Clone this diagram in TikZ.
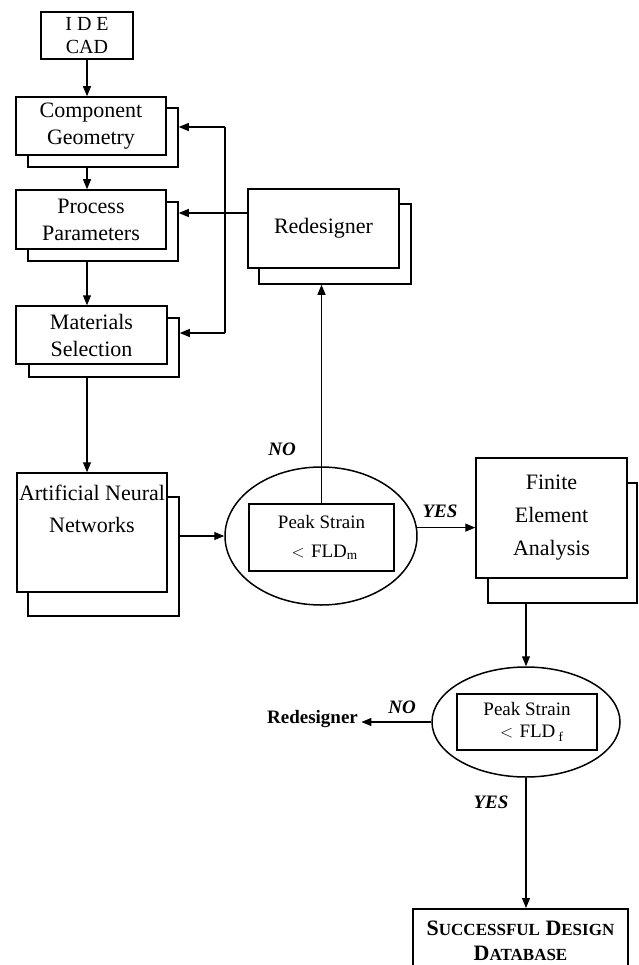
\documentclass[tikz,border=0pt]{standalone}
\usepackage{fontspec}
\setmainfont{Liberation Serif}
\usetikzlibrary{arrows.meta,shapes.geometric,calc}
\newcommand{\scword}[2]{{\fontsize{22}{25}\selectfont #1}{\fontsize{17}{25}\selectfont #2}}

\begin{document}
\begin{tikzpicture}[x=1pt,y=-1pt,
  box/.style={draw, line width=1.5pt, fill=white, align=center, inner sep=0pt, font=\fontsize{22}{27}\selectfont},
  ell/.style={draw, ellipse, line width=1.5pt, fill=white, inner sep=0pt},
  link/.style={line width=1.1pt},
  arr/.style={link, -{Triangle[length=10pt,width=8pt]}},
  tag/.style={font=\fontsize{19}{22}\selectfont\bfseries\itshape}]
\useasboundingbox (0,0) rectangle (638,965);
\clip (0,0) rectangle (638,965);

\node[box, minimum width=92pt, minimum height=47pt, font=\fontsize{20}{23}\selectfont] (ide) at (87,35.5) {I D E\\CAD};

\node[box, minimum width=150pt, minimum height=59pt] (cgs) at (103,137.5) {};
\node[box, minimum width=150pt, minimum height=58pt] (cg) at (91,126) {Component\\Geometry};
\node[box, minimum width=150pt, minimum height=59pt] (pps) at (103,231.5) {};
\node[box, minimum width=150pt, minimum height=59pt] (pp) at (91,219.5) {Process\\Parameters};
\node[box, minimum width=150pt, minimum height=59pt] (mss) at (104,347.5) {};
\node[box, minimum width=151pt, minimum height=58pt] (ms) at (91.5,335) {Materials\\Selection};

\node[box, minimum width=151pt, minimum height=119pt] (anns) at (103.5,556.5) {};
\node[box, minimum width=150pt, minimum height=119pt] (ann) at (92,532.5) {};
\node[align=center, font=\fontsize{22}{32}\selectfont] (anntxt) at (92,509) {Artificial Neural\\Networks};

\node[box, minimum width=152pt, minimum height=80pt] (rds) at (335,244) {};
\node[box, minimum width=151pt, minimum height=79pt] (rd) at (323.5,228.5) {Redesigner};

\node[box, minimum width=149pt, minimum height=120pt] (feas) at (562.5,543) {};
\node[box, minimum width=151pt, minimum height=120pt, font=\fontsize{22}{33}\selectfont] (fea) at (551.5,518) {Finite\\Element\\Analysis};

\node[ell, minimum width=192pt, minimum height=138pt] (ell1) at (321,536) {};
\node[box, minimum width=145pt, minimum height=67pt, font=\fontsize{19}{31}\selectfont] (pk1) at (321.5,537.5) {Peak Strain\\[-2pt]\,\,$<$\,\,FLD\textsubscript{m}};

\node[ell, minimum width=188pt, minimum height=110pt] (ell2) at (526,722) {};
\node[box, minimum width=140pt, minimum height=56pt, font=\fontsize{19}{22}\selectfont] (pk2) at (527,722) {Peak Strain\\\ \ $<$\,\,FLD\,\textsubscript{f}};

\node[font=\fontsize{19}{22}\selectfont\bfseries] (rdtxt) at (312.5,719) {Redesigner};

\node[box, minimum width=215pt, minimum height=65pt, anchor=north, font=\fontsize{22}{25}\selectfont\bfseries] (db) at (520.5,908) {\scword{S}{UCCESSFUL} \scword{D}{ESIGN}\\\scword{D}{ATABASE}};

\draw[arr] (ide.south) -- (ide.south |- cg.north);
\draw[arr] (cgs.south -| ide.south) -- (pp.north -| ide.south);
\draw[arr] (pps.south -| ide.south) -- (ms.north -| ide.south);
\draw[arr] (mss.south -| ide.south) -- (ann.north -| ide.south);

\coordinate (fbt) at (225,127);
\coordinate (fbb) at (225,333);
\draw[link] (fbt) -- (fbb);
\draw[arr] (fbt) -- (fbt -| cgs.east);
\draw[arr] ([yshift=15.5pt]rd.west) -- ([yshift=15.5pt]rd.west -| pps.east);
\draw[arr] (fbb) -- (fbb -| mss.east);

\draw[arr] (anns.east |- ell1.west) -- (ell1.west);
\draw[arr] (pk1.north) -- (pk1.north |- rds.south);
\node[tag] (no1) at (282,449) {NO};
\draw[arr] (ell1.5) -- (ell1.5 -| fea.west);
\node[tag] (yes1) at (440,511) {YES};

\draw[arr] (ell2.north |- feas.south) -- (ell2.north);
\draw[arr] (ell2.west) -- (ell2.west -| rdtxt.east);
\node[tag] (no2) at (402,707) {NO};
\draw[arr] (ell2.south) -- (ell2.south |- db.north);
\node[tag] (yes2) at (491,802) {YES};
\end{tikzpicture}
\end{document}
